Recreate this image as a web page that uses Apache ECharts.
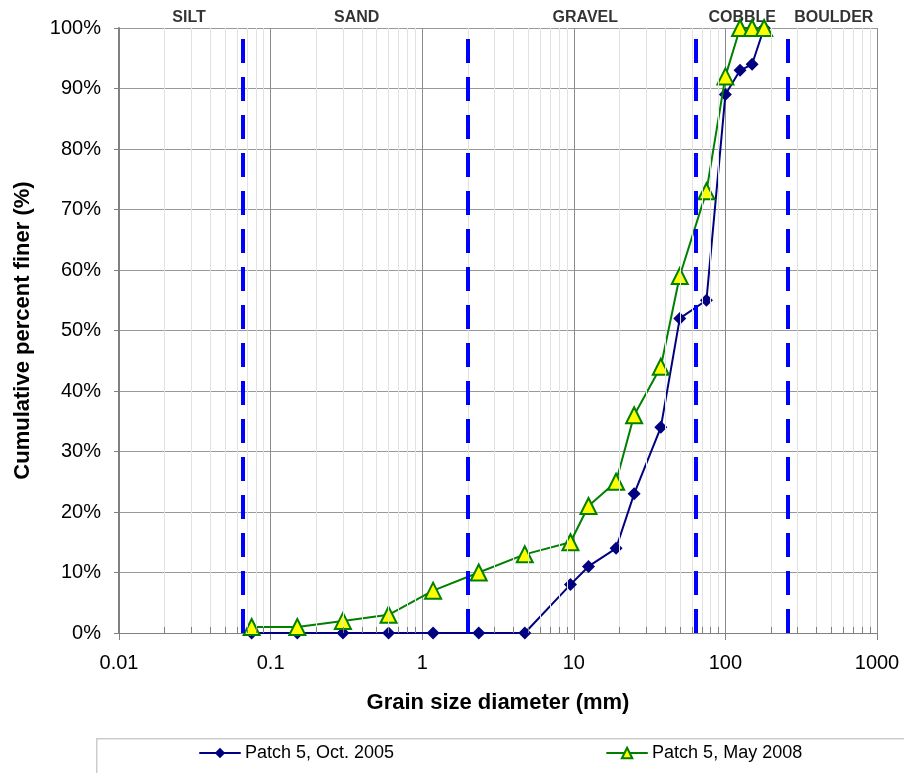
<!DOCTYPE html>
<html>
<head>
<meta charset="utf-8">
<script src="https://cdn.jsdelivr.net/npm/echarts@6/dist/echarts.min.js"></script>
<style>
html,body{margin:0;padding:0;background:#fff;}
#chart{width:904px;height:773px;}
</style>
</head>
<body>
<div id="chart"></div>
<script>
// ---- data ----
const grainSizes = [0.075, 0.15, 0.3, 0.6, 1.18, 2.36, 4.75, 9.5, 12.5, 19, 25, 37.5, 50, 75, 100, 125, 150, 180];
const patchOct2005 = [0, 0, 0, 0, 0, 0, 0, 8, 11, 14, 23, 34, 52, 55, 89, 93, 94, 100];
const patchMay2008 = [1, 1, 2, 3, 7, 10, 13, 15, 21, 25, 36, 44, 59, 73, 92, 100, 100, 100];
const seriesNames = ['Patch 5, Oct. 2005', 'Patch 5, May 2008'];
const classBoundaries = [0.066, 2, 64, 256];
const classNames = ['SILT', 'SAND', 'GRAVEL', 'COBBLE', 'BOULDER'];
const classLabelX = [0.029, 0.37, 11.9, 129, 519];
const xTickValues = [0.01, 0.1, 1, 10, 100, 1000];
const yTicks = [0, 10, 20, 30, 40, 50, 60, 70, 80, 90, 100];

// minor log gridline positions (2..9 within each decade)
const minorValues = [];
for (let d = 0; d < xTickValues.length - 1; d++) {
  for (let m = 2; m <= 9; m++) minorValues.push(+(xTickValues[d] * m).toPrecision(6));
}

const FONT = '"Liberation Sans", Arial, sans-serif';
const chart = echarts.init(document.getElementById('chart'), null, {renderer: 'canvas'});

const option = {
  animation: false,
  backgroundColor: '#ffffff',
  grid: {left: 119, right: 27, top: 28, bottom: 140, show: false},
  graphic: [{
    type: 'rect', left: 96, top: 738, silent: true, z: 0,
    shape: {width: 900, height: 100},
    style: {fill: '#ffffff', stroke: '#cccccc', lineWidth: 1.5}
  }],
  xAxis: {
    type: 'log', logBase: 10, min: 0.01, max: 1000,
    name: 'Grain size diameter (mm)', nameLocation: 'middle', nameGap: 59,
    nameTextStyle: {fontFamily: FONT, fontWeight: 'bold', fontSize: 22, color: '#000'},
    axisLine: {show: true, onZero: false, lineStyle: {color: '#808080', width: 1}},
    axisTick: {show: true, inside: false, length: 7, lineStyle: {color: '#808080'}},
    axisLabel: {fontFamily: FONT, fontSize: 20, color: '#000', margin: 20,
      formatter: v => String(Number((+v).toPrecision(6)))},
    splitLine: {show: true, lineStyle: {color: '#8c8c8c', width: 1}},
    minorTick: {show: false}
  },
  yAxis: {
    type: 'value', min: 0, max: 100, interval: 10,
    name: 'Cumulative percent finer (%)', nameLocation: 'middle', nameGap: 85,
    nameTextStyle: {fontFamily: FONT, fontWeight: 'bold', fontSize: 22, color: '#000'},
    axisLine: {show: true, lineStyle: {color: '#808080', width: 2}},
    axisTick: {show: true, inside: false, length: 5, lineStyle: {color: '#808080'}},
    axisLabel: {fontFamily: FONT, fontSize: 20, color: '#000', margin: 18, formatter: '{value}%'},
    splitLine: {show: true, lineStyle: {color: '#999999', width: 1}}
  },
  legend: {
    data: seriesNames,
    left: 96, top: 738,
    orient: 'horizontal',
    padding: [6, 0, 6, 103],
    itemWidth: 40, itemHeight: 13, itemGap: 212,
    textStyle: {fontFamily: FONT, fontSize: 18, color: '#000'},
    selectedMode: false
  },
  series: [
    {
      // background: minor grid and minor ticks
      type: 'line', data: [], silent: true, z: 1,
      markLine: {
        silent: true, symbol: 'none', animation: false,
        label: {show: false},
        data: minorValues.map(v => ({xAxis: v, lineStyle: {color: '#e2e2e2', width: 1, type: 'solid'}}))
          .concat(minorValues.map(v => [{coord: [v, 0], lineStyle: {color: '#808080', width: 1, type: 'solid'}}, {coord: [v, 1]}]))
      }
    },
    {
      type: 'line', data: [], silent: true, z: 2,
      markLine: {
        silent: true, symbol: 'none', animation: false,
        label: {show: false},
        data: classBoundaries.map(v => [{coord: [v, 0]}, {coord: [v, 100]}]),
        lineStyle: {color: '#0000ff', width: 4, type: [24, 14]}
      }
    },
    {
      type: 'scatter', silent: true, z: 2, symbolSize: 0,
      data: classNames.map((n, i) => ({name: n, value: [classLabelX[i], 100]})),
      label: {show: true, position: 'top', distance: 2, formatter: p => p.name,
        fontFamily: FONT, fontWeight: 'bold', fontSize: 16, color: '#000'}
    },
    {
      name: seriesNames[0], type: 'line', z: 3,
      data: grainSizes.map((g, i) => [g, patchOct2005[i]]),
      symbol: 'diamond', symbolSize: 13,
      lineStyle: {color: '#000080', width: 2, join: 'round', cap: 'round'},
      itemStyle: {color: '#000080', borderWidth: 0},
      clip: false
    },
    {
      name: seriesNames[1], type: 'line', z: 4,
      data: grainSizes.map((g, i) => [g, patchMay2008[i]]),
      symbol: 'triangle', symbolSize: 16,
      lineStyle: {color: '#008000', width: 2, join: 'round', cap: 'round'},
      itemStyle: {color: '#ffff00', borderColor: '#008000', borderWidth: 2},
      clip: false
    }
  ]
};
chart.setOption(option);
</script>
</body>
</html>
